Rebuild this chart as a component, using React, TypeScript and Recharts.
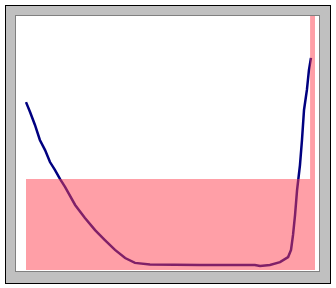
import { ComposedChart, Line, Area, XAxis, YAxis } from "recharts";

// curve (x, y), both on a 0..100 scale
const curveX = [0, 1.4, 3.1, 4.8, 6.6, 8.3, 10.0, 11.8, 13.5, 17.0, 20.4, 23.9, 27.3, 30.8, 34.3, 37.7, 42.9, 60.2, 79.2, 81.0, 84.4, 87.9, 90.7, 91.7, 92.4, 93.1, 93.8, 94.8, 95.5, 96.2, 97.2, 97.9, 98.6];
const curveY = [66.1, 62.2, 57.1, 51.2, 47.2, 42.5, 39.4, 35.8, 32.7, 25.6, 20.5, 15.7, 11.8, 7.9, 4.7, 2.8, 2.2, 2.0, 2.0, 1.6, 2.0, 3.1, 5.1, 7.9, 13.8, 21.7, 31.5, 41.3, 51.2, 63.0, 70.9, 78.7, 83.5];

// shaded steps
const stepX = [0, 98.3, 100];
const stepY = [35.8, 100, 100];

const curveData = curveX.map((x, i) => ({ x, y: curveY[i] }));
const stepData = stepX.map((x, i) => ({ x, s: stepY[i] }));

const W = 303;
const H = 255;
const M = { top: 0, right: 4, left: 10, bottom: 1 };
const layer = { position: "absolute" as const, left: 0, top: 0 };

export default function App() {
  return (
    <div
      style={{
        position: "absolute",
        left: 5,
        top: 5,
        width: 326,
        height: 279,
        boxSizing: "border-box",
        border: "1px solid #000",
        background: "#c0c0c0",
      }}
    >
      <div
        style={{
          position: "absolute",
          left: 9,
          top: 9,
          width: 305,
          height: 257,
          boxSizing: "border-box",
          border: "1px solid #808080",
          background: "#fff",
        }}
      >
        {/* curve underneath */}
        <div style={layer}>
          <ComposedChart width={W} height={H} data={curveData} margin={M}>
            <XAxis type="number" dataKey="x" domain={[0, 100]} hide />
            <YAxis type="number" domain={[0, 100]} hide />
            <Line
              dataKey="y"
              stroke="#000080"
              strokeWidth={2.5}
              dot={false}
              type="linear"
              isAnimationActive={false}
            />
          </ComposedChart>
        </div>
        {/* translucent shading on top, so the curve turns purple */}
        <div style={layer}>
          <ComposedChart width={W} height={H} data={stepData} margin={M}>
            <XAxis type="number" dataKey="x" domain={[0, 100]} hide />
            <YAxis type="number" domain={[0, 100]} hide />
            <Area
              dataKey="s"
              type="stepAfter"
              stroke="none"
              fill="#ff4050"
              fillOpacity={0.5}
              isAnimationActive={false}
            />
          </ComposedChart>
        </div>
      </div>
    </div>
  );
}
